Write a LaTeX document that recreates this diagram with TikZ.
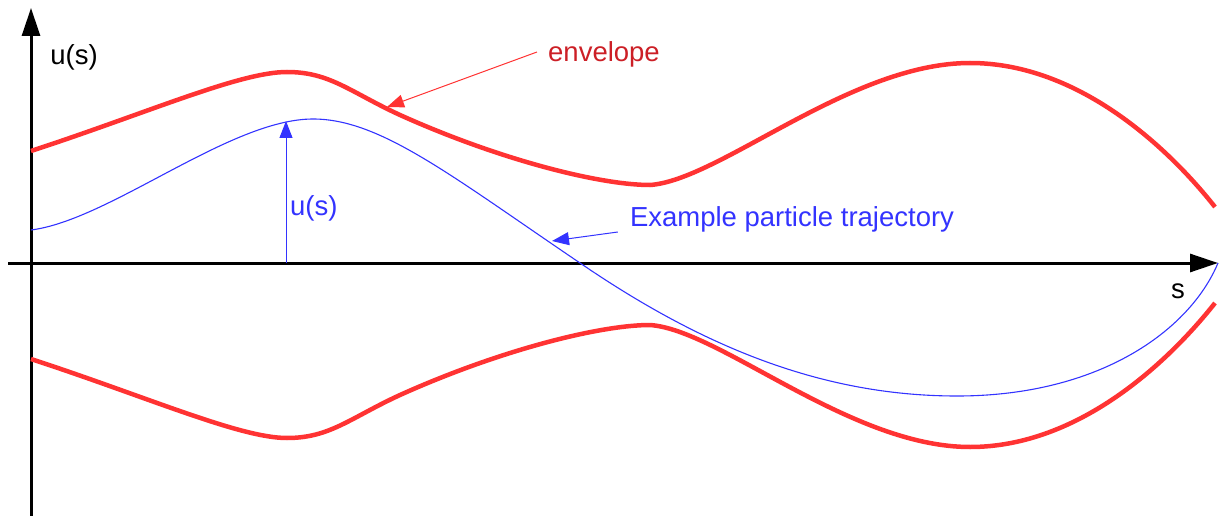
\documentclass[tikz,border=0pt]{standalone}
\usepackage{fontspec}
\setmainfont{Liberation Sans}
\usetikzlibrary{arrows.meta, positioning}
\definecolor{envred}{RGB}{255,51,51}
\definecolor{labelred}{RGB}{204,31,38}
\definecolor{trajblue}{RGB}{51,51,255}

\begin{document}
\begin{tikzpicture}[
    x=1pt, y=-1pt,
    axis/.style={line width=3pt, -{Triangle[length=28pt, width=18pt]}},
    envelope/.style={line width=4.5pt, color=envred},
    traj/.style={line width=1.1pt, color=trajblue},
    pointer/.style={line width=1pt, -{Triangle[length=17pt, width=13pt]}},
    label/.style={font=\fontsize{27.5}{33}\selectfont, inner sep=0pt},
]
\useasboundingbox (0,0) rectangle (1229,516);

% ── Axes ───────────────────────────────────────────────────────────────
\coordinate (ubot)   at (31,516);
\coordinate (utop)   at (31,8);
\coordinate (sleft)  at (8,263);
\coordinate (sright) at (1218,263);
\draw[axis] (ubot)  -- (utop);
\draw[axis] (sleft) -- (sright);

\node[label] (ulabel) at (74,57)    {u(s)};
\node[label] (slabel) at (1178,291) {s};

% ── Envelope (upper / lower) ──────────────────────────────────────────
\draw[envelope] (31,151) .. controls (150,112) and (240,72) .. (287,72)
      .. controls (330,72) and (350,92) .. (400,115)
      .. controls (500,160) and (600,185) .. (650,185)
      .. controls (720,180) and (850,63) .. (970,63)
      .. controls (1080,63) and (1170,150) .. (1215,207);

\draw[envelope] (31,359) .. controls (150,398) and (240,438) .. (287,438)
      .. controls (330,438) and (350,418) .. (400,395)
      .. controls (500,350) and (600,325) .. (650,325)
      .. controls (720,330) and (850,447) .. (970,447)
      .. controls (1080,447) and (1170,360) .. (1215,303);

% ── Example trajectory ────────────────────────────────────────────────
\draw[traj] (31,230) .. controls (110,220) and (230,119) .. (313,119)
      .. controls (380,119) and (450,175) .. (580,263)
      .. controls (700,345) and (820,396) .. (957,396)
      .. controls (1100,396) and (1190,330) .. (sright);

% amplitude arrow
\coordinate (ubase) at (286,263);
\coordinate (upeak) at (286,121);
\draw[traj, line width=1pt, -{Triangle[length=17pt, width=13pt]}] (ubase) -- (upeak);
\node[label, text=trajblue, anchor=west] (ulen) at (290,208) {u(s)};

% ── Annotations ───────────────────────────────────────────────────────
\node[label, text=labelred] (envlabel)  at (604,54)  {envelope};
\node[label, text=trajblue] (trajlabel) at (792,219) {Example particle trajectory};

\coordinate (envtip)  at (387,107);
\coordinate (trajtip) at (552,241);
\draw[pointer, envred]   ([xshift=-11pt, yshift=2pt]envlabel.west) -- (envtip);
\draw[pointer, trajblue] ([xshift=-12pt, yshift=-13pt]trajlabel.west) -- (trajtip);

\end{tikzpicture}
\end{document}
